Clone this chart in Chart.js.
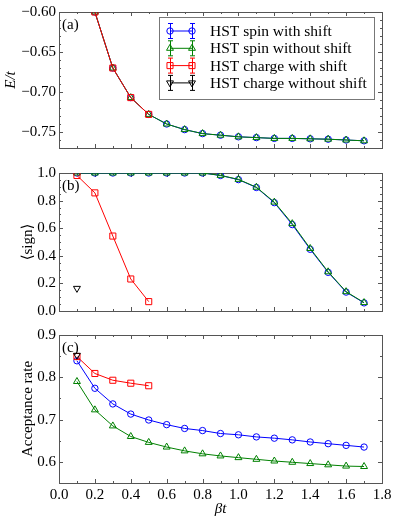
<!DOCTYPE html>
<html>
<head>
<meta charset="utf-8">
<script src="https://cdn.jsdelivr.net/npm/chart.js@4.4.0/dist/chart.umd.min.js"></script>
<style>
  body { margin: 0; background: #fff; }
  #wrap { position: relative; width: 395px; height: 521px; }
  canvas { position: absolute; left: 0; }
</style>
</head>
<body>
<div id="wrap">
  <canvas id="chartA" width="395" height="160" style="top:0"></canvas>
  <canvas id="chartB" width="395" height="163" style="top:160px"></canvas>
  <canvas id="chartC" width="395" height="199" style="top:322px"></canvas>
</div>
<script>
// beta*t values
const betaSpin = [0.1, 0.2, 0.3, 0.4, 0.5, 0.6, 0.7, 0.8, 0.9, 1.0, 1.1, 1.2, 1.3, 1.4, 1.5, 1.6, 1.7];
const betaCharge = [0.1, 0.2, 0.3, 0.4, 0.5];
const betaChargeNoShift = [0.1];

// (a) energy E/t
const energySpinShift = [null, -0.600, -0.670, -0.707, -0.728, -0.740, -0.747, -0.752, -0.754, -0.756, -0.757, -0.758, -0.758, -0.7585, -0.759, -0.760, -0.761];
const energySpinNoShift = [null, -0.600, -0.670, -0.707, -0.728, -0.740, -0.747, -0.752, -0.754, -0.756, -0.757, -0.758, -0.758, -0.7585, -0.759, -0.760, -0.761];
const energyChargeShift = [null, -0.600, -0.670, -0.707, -0.728];

// (b) average sign
const signSpinShift = [1.0, 1.0, 1.0, 1.0, 1.0, 1.0, 1.0, 1.0, 0.982, 0.952, 0.895, 0.785, 0.626, 0.447, 0.280, 0.137, 0.059];
const signSpinNoShift = [1.0, 1.0, 1.0, 1.0, 1.0, 1.0, 1.0, 1.0, 0.983, 0.954, 0.897, 0.789, 0.633, 0.453, 0.284, 0.140, 0.061];
const signChargeShift = [0.982, 0.856, 0.543, 0.232, 0.068];
const signChargeNoShift = [0.164];

// (c) acceptance rate
const accSpinShift = [0.839, 0.774, 0.737, 0.713, 0.699, 0.688, 0.679, 0.674, 0.667, 0.664, 0.659, 0.656, 0.652, 0.647, 0.643, 0.639, 0.635];
const accSpinNoShift = [0.790, 0.723, 0.685, 0.660, 0.646, 0.635, 0.626, 0.619, 0.614, 0.610, 0.606, 0.602, 0.599, 0.596, 0.593, 0.590, 0.589];
const accChargeShift = [0.849, 0.809, 0.793, 0.786, 0.780];
const accChargeNoShift = [0.852];

// tick labels
const xTicks = [0.0, 0.2, 0.4, 0.6, 0.8, 1.0, 1.2, 1.4, 1.6, 1.8];
const yTicksA = [-0.75, -0.70, -0.65, -0.60];
const yTicksB = [0.0, 0.2, 0.4, 0.6, 0.8, 1.0];
const yTicksC = [0.6, 0.7, 0.8, 0.9];

const seriesLabels = ['HST spin with shift', 'HST spin without shift', 'HST charge with shift', 'HST charge without shift'];

const SERIF = '"Liberation Serif", "DejaVu Serif", serif';
const styles = [
  { color: '#0000ff', pointStyle: 'circle', radius: 3.2, rotation: 0 },
  { color: '#008000', pointStyle: 'triangle', radius: 4, rotation: 0 },
  { color: '#ff0000', pointStyle: 'rect', radius: 4.3, rotation: 0 },
  { color: '#000000', pointStyle: 'triangle', radius: 4, rotation: 180 },
];

function ds(i, xs, ys) {
  const s = styles[i];
  return {
    label: seriesLabels[i],
    data: xs.map((x, k) => ({ x: x, y: ys[k] })),
    borderColor: s.color,
    backgroundColor: 'rgba(0,0,0,0)',
    borderWidth: 1,
    pointStyle: s.pointStyle,
    pointRadius: s.radius,
    pointRotation: s.rotation,
    pointBorderColor: s.color,
    pointBackgroundColor: 'rgba(0,0,0,0)',
    pointBorderWidth: 1,
    showLine: ys.length > 1,
    order: 3 - i,
    clip: 0,
  };
}

// inward ticks, frame and panel tag
const framePlugin = {
  id: 'frame',
  beforeDatasetsDraw(chart, args, o) {
    const { ctx, chartArea: a, scales: { x, y } } = chart;
    ctx.save();
    ctx.strokeStyle = '#555';
    ctx.lineWidth = 1;
    ctx.beginPath();
    for (let k = 0; k <= 18; k++) {
      const px = Math.round(x.getPixelForValue(k / 10)) + 0.5;
      const len = k % 2 === 0 ? 4 : 2;
      ctx.moveTo(px, a.bottom); ctx.lineTo(px, a.bottom - len);
      ctx.moveTo(px, a.top); ctx.lineTo(px, a.top + len);
    }
    const n0 = Math.ceil(y.min / o.minor - 1e-6), n1 = Math.floor(y.max / o.minor + 1e-6);
    for (let k = n0; k <= n1; k++) {
      const v = k * o.minor;
      const py = Math.round(y.getPixelForValue(v)) + 0.5;
      const major = o.major.some(m => Math.abs(m - v) < 1e-6);
      const len = major ? 4 : 2;
      ctx.moveTo(a.left, py); ctx.lineTo(a.left + len, py);
      ctx.moveTo(a.right, py); ctx.lineTo(a.right - len, py);
    }
    ctx.stroke();
    ctx.strokeRect(Math.round(a.left) + 0.5, Math.round(a.top) + 0.5, Math.round(a.width), Math.round(a.height));
    ctx.restore();
  },
  afterDatasetsDraw(chart, args, o) {
    const { ctx, chartArea: a } = chart;
    ctx.save();
    ctx.fillStyle = '#000';
    ctx.font = '15px ' + SERIF;
    ctx.textBaseline = 'middle';
    ctx.fillText(o.tag, a.left + 3, a.top + 13);
    ctx.restore();
  }
};

// legend with error-bar markers, drawn inside panel (a)
const legendPlugin = {
  id: 'errLegend',
  afterDraw(chart, args, o) {
    if (!o.show) return;
    const { ctx } = chart;
    const box = { l: 159, t: 17, r: 374, b: 99 };
    ctx.save();
    ctx.fillStyle = '#fff';
    ctx.fillRect(box.l, box.t, box.r - box.l, box.b - box.t);
    ctx.strokeStyle = '#777';
    ctx.lineWidth = 1;
    ctx.strokeRect(box.l + 0.5, box.t + 0.5, box.r - box.l, box.b - box.t);
    seriesLabels.forEach((lab, i) => {
      const s = styles[i];
      const yy = 31 + i * 17.3;
      const x0 = 170, x1 = 192;
      ctx.strokeStyle = s.color;
      ctx.lineWidth = 1;
      ctx.beginPath();
      ctx.moveTo(x0, yy); ctx.lineTo(x1, yy);
      [x0, x1].forEach(xx => {
        ctx.moveTo(xx + 0.5, yy - 7.5); ctx.lineTo(xx + 0.5, yy + 7.5);
        ctx.moveTo(xx - 2, yy - 7.5); ctx.lineTo(xx + 3, yy - 7.5);
        ctx.moveTo(xx - 2, yy + 7.5); ctx.lineTo(xx + 3, yy + 7.5);
      });
      ctx.stroke();
      ctx.fillStyle = 'rgba(0,0,0,0)';
      [x0, x1].forEach(xx => {
        Chart.helpers.drawPoint(ctx, {
          pointStyle: s.pointStyle, radius: s.radius, rotation: s.rotation, borderWidth: 1
        }, xx, yy);
      });
      ctx.fillStyle = '#000';
      ctx.font = '15.5px ' + SERIF;
      ctx.textBaseline = 'middle';
      ctx.fillText(lab, 210, yy + 1);
    });
    ctx.restore();
  }
};

function makeChart(id, datasets, yOpt, tag, showX, pad, showLegend) {
  return new Chart(document.getElementById(id), {
    type: 'line',
    data: { datasets: datasets },
    plugins: [framePlugin, legendPlugin],
    options: {
      responsive: false,
      animation: false,
      devicePixelRatio: 1,
      layout: { padding: { top: pad.top, bottom: pad.bottom, right: 13, left: 0 } },
      plugins: {
        legend: { display: false },
        tooltip: { enabled: false },
        frame: { tag: tag, major: yOpt.ticks, minor: yOpt.minor },
        errLegend: { show: showLegend },
      },
      scales: {
        x: {
          type: 'linear',
          min: 0, max: 1.8,
          display: showX,
          grid: { display: false, drawTicks: false },
          border: { display: false },
          afterBuildTicks: s => { s.ticks = xTicks.map(v => ({ value: v })); },
          afterFit: s => { s.height = showX ? 38 : 0; },
          ticks: {
            color: '#000', padding: 3,
            font: { family: SERIF, size: 15 },
            callback: v => v.toFixed(1),
          },
          title: {
            display: true, text: 'βt', color: '#000',
            font: { family: SERIF, size: 15, style: 'italic' },
            padding: { top: 0, bottom: 3 },
          },
        },
        y: {
          min: yOpt.min, max: yOpt.max,
          grid: { display: false, drawTicks: false },
          border: { display: false },
          afterBuildTicks: s => { s.ticks = yOpt.ticks.map(v => ({ value: v })); },
          afterFit: s => { s.width = 59; },
          ticks: {
            color: '#000', padding: 3,
            font: { family: SERIF, size: 15 },
            callback: v => v.toFixed(yOpt.digits).replace('-', '\u2212'),
          },
          title: {
            display: true, text: yOpt.title, color: '#000',
            font: { family: SERIF, size: 15, style: yOpt.italic ? 'italic' : 'normal' },
            padding: { top: yOpt.titlePad, bottom: 0 },
          },
        },
      },
    },
  });
}

makeChart('chartA', [
  ds(0, betaSpin, energySpinShift),
  ds(1, betaSpin, energySpinNoShift),
  ds(2, betaCharge, energyChargeShift),
], { min: -0.77, max: -0.60, ticks: yTicksA, minor: 0.01, digits: 2, title: 'E/t', italic: true, titlePad: 2 },
  '(a)', false, { top: 10, bottom: 2 }, true);

makeChart('chartB', [
  ds(0, betaSpin, signSpinShift),
  ds(1, betaSpin, signSpinNoShift),
  ds(2, betaCharge, signChargeShift),
  ds(3, betaChargeNoShift, signChargeNoShift),
], { min: 0, max: 1.0, ticks: yTicksB, minor: 0.05, digits: 1, title: '\u27E8sign\u27E9', italic: false, titlePad: 19 },
  '(b)', false, { top: 13, bottom: 2 }, false);

makeChart('chartC', [
  ds(0, betaSpin, accSpinShift),
  ds(1, betaSpin, accSpinNoShift),
  ds(2, betaCharge, accChargeShift),
  ds(3, betaChargeNoShift, accChargeNoShift),
], { min: 0.55, max: 0.9, ticks: yTicksC, minor: 0.05, digits: 1, title: 'Acceptance rate', italic: false, titlePad: 19 },
  '(c)', true, { top: 13, bottom: 0 }, false);
</script>
</body>
</html>
